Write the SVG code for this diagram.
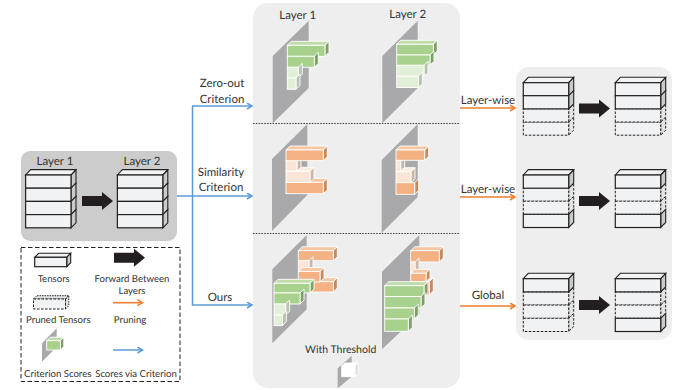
<svg xmlns="http://www.w3.org/2000/svg" width="686" height="390" viewBox="0 0 686 390">
<style>
text{font-family:Lato,"Liberation Sans",sans-serif;fill:#333;text-anchor:middle;font-size:11.5px;text-rendering:geometricPrecision}
.lg{font-size:9.6px}
.fr{fill:#f1f2f4;stroke:#222;stroke-width:1.2}
.sd{fill:#c9cbcb;stroke:#222;stroke-width:1.1}
.tp{fill:#f4f4f4;stroke:#222;stroke-width:1.1}
.frd{fill:#f1f2f4;stroke:#222;stroke-width:1;stroke-dasharray:2.500 1.500}
.sdd{fill:#e2e3e3;stroke:#222;stroke-width:1;stroke-dasharray:2.500 1.500}
.pl{fill:#a9a9ac}
.g1,.g2,.g3,.gl1,.gl2,.gl3,.o1,.o2,.o3,.ol1,.ol2,.ol3,.w1,.w2,.w3{stroke:#fff;stroke-width:.9}
.g1{fill:#a9d18e}.g2{fill:#bfdcab}.g3{fill:#7f9f69}
.gl1{fill:#e2efd9}.gl2{fill:#edf5e6}.gl3{fill:#b7c2ad}
.o1{fill:#f4b183}.o2{fill:#f7c6a3}.o3{fill:#c48a60}
.ol1{fill:#fbe5d6}.ol2{fill:#fdeee3}.ol3{fill:#c9b7a8}
.w1,.w2{fill:#fff}.w3{fill:#d8d8d8}
.bl{fill:none;stroke:#5b9bd5;stroke-width:1.500}
.or{fill:none;stroke:#ed7d31;stroke-width:1.600}
.dot{stroke:#444;stroke-width:1;stroke-dasharray:1.600 1.200;fill:none}
</style>
<defs>
<path id="arw" fill="#231f20" d="M0-5H20V-9L31 0 20 9V5H0z"/>
<path id="cap" class="tp" d="M0 0l5-5.400h45.400l-5 5.400z"/>
<g id="ls"><path class="sd" d="M45.400 0l5-5v13.200l-5 5z"/><rect class="fr" width="45.400" height="13.200"/></g>
<g id="ld"><path class="sdd" d="M45.400 0l5-5v13.200l-5 5z"/><rect class="frd" width="45.400" height="13.200"/></g>
<marker id="mb" markerWidth="8" markerHeight="8" refX="6" refY="3.500" orient="auto" markerUnits="userSpaceOnUse"><path d="M1 .5L6 3.500 1 6.500" fill="none" stroke="#5b9bd5" stroke-width="1.500"/></marker>
<marker id="mo" markerWidth="8" markerHeight="8" refX="6" refY="3.500" orient="auto" markerUnits="userSpaceOnUse"><path d="M1 .5L6 3.500 1 6.500" fill="none" stroke="#ed7d31" stroke-width="1.500"/></marker>
</defs>

<g id="panels">
<rect x="21" y="151" width="156" height="90" rx="9" fill="#cdcccc"/>
<rect x="253" y="3" width="207" height="385" rx="15" fill="#eeeeee"/>
<rect x="516" y="67" width="156" height="273" rx="13" fill="#eeeeee"/>
<path class="dot" d="M253 123.500H460M253 233.500H460"/>
</g>

<g id="connectors">
<path class="bl" d="M177 196H192.500"/>
<path class="bl" d="M192.500 106V305H252" marker-end="url(#mb)"/>
<path class="bl" d="M192 106H252" marker-end="url(#mb)"/>
<path class="bl" d="M192.500 196H252" marker-end="url(#mb)"/>
<path class="or" d="M460 108H515" marker-end="url(#mo)"/>
<path class="or" d="M460 197H515" marker-end="url(#mo)"/>
<path class="or" d="M460 306H515" marker-end="url(#mo)"/>
</g>

<g id="input-stacks">
<text x="55" y="165">Layer 1</text><text x="142" y="165">Layer 2</text>
<g id="input-layer-1" transform="translate(25.600 175)"><use href="#cap"/><use href="#ls"/><use href="#ls" y="13.200"/><use href="#ls" y="26.400"/><use href="#ls" y="39.600"/></g>
<g id="input-layer-2" transform="translate(117.400 175)"><use href="#cap"/><use href="#ls"/><use href="#ls" y="13.200"/><use href="#ls" y="26.400"/><use href="#ls" y="39.600"/></g>
<use href="#arw" x="82" y="201"/>
</g>

<g id="legend">
<rect x="21" y="247.500" width="159" height="134" fill="#fff" stroke="#222" stroke-width="1" stroke-dasharray="4.500 2.500"/>
<path class="tp" d="M34.700 257.300l4-4h32l-4 4z"/><path class="sd" d="M66.700 257.300l4-4v9.400l-4 4z"/><rect class="fr" x="34.700" y="257.300" width="32" height="9.400"/>
<use href="#arw" x="114" y="257.700"/>
<path class="sdd" d="M33.500 299l3.300-3.300h32l-3.300 3.300zM65.500 299l3.300-3.300v10l-3.300 3.300z" style="stroke-dasharray:1.500 1"/><rect class="frd" x="33.500" y="299" width="32" height="10"/>
<path class="or" d="M113 302.700H142.500" marker-end="url(#mo)"/>
<path class="pl" d="M42 343.300L56.700 328.300V347L42 361.700z"/>
<path class="g2" d="M46.700 340.700l3.500-3.500h13.600l-3.500 3.500z"/><path class="g3" d="M60.300 340.700l3.500-3.500v9.300l-3.500 3.500z"/><rect class="g1" x="46.700" y="340.700" width="13.600" height="9.300"/>
<path class="bl" d="M113 350H142.500" marker-end="url(#mb)"/>
<text class="lg" x="53.700" y="282">Tensors</text>
<text class="lg" x="132" y="282">Forward Between</text><text class="lg" x="132" y="294">Layers</text>
<text class="lg" x="58.300" y="322.700">Pruned Tensors</text><text class="lg" x="130" y="322.700">Pruning</text>
<text class="lg" x="57.700" y="376.700">Criterion Scores</text><text class="lg" x="136" y="376.700">Scores via Criterion</text>
</g>

<g id="labels">
<text x="222" y="87">Zero-out</text><text x="222" y="103">Criterion</text>
<text x="221" y="176">Similarity</text><text x="221" y="191">Criterion</text>
<text x="220" y="301">Ours</text>
<text x="488" y="104">Layer-wise</text><text x="488" y="192.500">Layer-wise</text><text x="488" y="299">Global</text>
<text x="297.700" y="19">Layer 1</text><text x="407.700" y="17.500">Layer 2</text>
<text x="340.700" y="352.700" style="font-size:10.500px">With Threshold</text>
</g>

<g id="zero-out-layer-1">
<path class="pl" d="M272.700 56L308.700 20.700V88L272.700 123.300z"/>
<path class="g2" d="M287.300 45.300l4-4h37.700l-4 4z"/><path class="g3" d="M325 45.300l4-4v11l-4 4z"/><rect class="g1" x="287.300" y="45.300" width="37.700" height="11"/>
<path class="g3" d="M314.300 56.300l4-4v11l-4 4z"/><rect class="g1" x="287.300" y="56.300" width="27" height="11"/>
<path class="gl3" d="M298.300 67.300l4-4v10.700l-4 4z"/><rect class="gl1" x="287.300" y="67.300" width="11" height="10.700"/>
<path class="gl3" d="M296 78l4-4v11.300l-4 4z"/><rect class="gl1" x="287.300" y="78" width="8.700" height="11.300"/>
</g>
<g id="zero-out-layer-2">
<path class="pl" d="M382.300 56L417.700 20.700V88L382.300 123.300z"/>
<path class="g2" d="M396.700 44.300l4-4h36.600l-4 4z"/><path class="g3" d="M433.300 44.300l4-4v10.700l-4 4z"/><rect class="g1" x="396.700" y="44.300" width="36.600" height="10.700"/>
<path class="g3" d="M430 55l4-4v10.300l-4 4z"/><rect class="g1" x="396.700" y="55" width="33.300" height="10.300"/>
<path class="gl3" d="M424 65.300l4-4v11l-4 4z"/><rect class="gl1" x="396.700" y="65.300" width="27.300" height="11"/>
<path class="gl3" d="M418.300 76.300l4-4v11.200l-4 4z"/><rect class="gl1" x="396.700" y="76.300" width="21.600" height="11.200"/>
</g>

<g id="similarity-layer-1">
<path class="pl" d="M272 159L307.300 124V195L272 231z"/>
<path class="ol3" d="M297 160.700l4-4v11l-4 4z"/><rect class="ol1" x="286" y="160.700" width="11" height="10.600"/>
<path class="o2" d="M286 150l4-4h37.300l-4 4z"/><path class="o3" d="M323.300 150l4-4v10.700l-4 4z"/><rect class="o1" x="286" y="150" width="37.300" height="10.700"/>
<path class="o2" d="M286 182.300l4-4h37.300l-4 4z"/><path class="o3" d="M323.300 182.300l4-4v11.400l-4 4z"/><rect class="o1" x="286" y="182.300" width="37.300" height="11.400"/>
<path class="ol2" d="M297 171.300l4-4h13l-4 4z"/><path class="ol3" d="M310 171.300l4-4v11l-4 4z"/><rect class="ol1" x="286" y="171.300" width="24" height="11"/>
</g>
<g id="similarity-layer-2">
<path class="pl" d="M381.700 160L417.700 124V197L381.700 233z"/>
<path class="ol3" d="M400.700 160.300l4-4v11l-4 4z"/><rect class="ol1" x="396" y="160.300" width="4.700" height="11"/>
<path class="o2" d="M396 150l4-4h28.700l-4 4z"/><path class="o3" d="M424.700 150l4-4v10.300l-4 4z"/><rect class="o1" x="396" y="150" width="28.700" height="10.300"/>
<path class="o3" d="M414.700 182.700l4-4v11.600l-4 4z"/><path class="ol3" d="M411 171.700l4-4v11l-4 4z"/><path class="ol2" d="M400 171.700l4-4h11l-4 4z"/><rect class="ol1" x="396" y="171.700" width="15" height="11"/>
<rect class="o1" x="396" y="182.700" width="18.700" height="11.600"/>
</g>

<g id="ours-layer-1">
<path class="pl" d="M272.300 269.300L306.700 235V309.300L272.300 343.300z"/>
<path class="o2" d="M298.300 250.700l4-4h35l-4 4z"/><path class="o3" d="M333.300 250.700l4-4v10l-4 4z"/><rect class="o1" x="298.300" y="250.700" width="35" height="10"/>
<path class="ol3" d="M309 260.700l4-4v10.600l-4 4z"/><rect class="ol1" x="298.300" y="260.700" width="10.700" height="10.600"/>
<path class="o2" d="M298.300 281.700l4-4h35l-4 4z"/><path class="o3" d="M333.300 281.700l4-4v10.300l-4 4z"/><rect class="o1" x="298.300" y="281.700" width="35" height="10.300"/>
<path class="o2" d="M298.300 271.500l4-4h21.700l-4 4z"/><path class="o3" d="M320 271.500l4-4v10.500l-4 4z"/><rect class="o1" x="298.300" y="271.500" width="21.700" height="10.500"/>
<path class="g2" d="M274 283.300l4-4h36l-4 4z"/><path class="g3" d="M310 283.300l4-4v9.700l-4 4z"/><rect class="g1" x="274" y="283.300" width="36" height="9.700"/>
<path class="g3" d="M300 293l4-4v11l-4 4z"/><rect class="g1" x="274" y="293" width="26" height="11"/>
<path class="gl3" d="M285.700 304l4-4v11l-4 4z"/><rect class="gl1" x="274" y="304" width="11.700" height="11"/>
<path class="gl3" d="M282.300 315l4-4v10.700l-4 4z"/><rect class="gl1" x="274" y="315" width="8.300" height="10.700"/>
</g>
<g id="ours-layer-2">
<path class="pl" d="M382 271.700L419.300 235V314L382 349.300z"/>
<path class="o2" d="M410.700 250.700l4-4h28.600l-4 4z"/><path class="o3" d="M439.300 250.700l4-4v11.300l-4 4z"/><rect class="o1" x="410.700" y="250.700" width="28.600" height="11.300"/>
<path class="ol3" d="M415 262l4-4v11l-4 4z"/><rect class="ol1" x="410.700" y="262" width="4.300" height="11"/>
<path class="o3" d="M429.300 281.700l4-4v13.300l-4 4z"/><rect class="o1" x="410.700" y="281.700" width="18.600" height="13.300"/>
<path class="o2" d="M410.700 273.300l4-4h15.300l-4 4z"/><path class="o3" d="M426 273.300l4-4v8.400l-4 4z"/><rect class="o1" x="410.700" y="273.300" width="15.300" height="8.400"/>
<path class="g2" d="M384.700 285.700l4-4h39.300l-4 4z"/><path class="g3" d="M424 285.700l4-4v10.800l-4 4z"/><rect class="g1" x="384.700" y="285.700" width="39.300" height="10.800"/>
<path class="g3" d="M421 296.500l4-4v11.500l-4 4z"/><rect class="g1" x="384.700" y="296.500" width="36.300" height="11.500"/>
<path class="g3" d="M414.300 308l4-4v11l-4 4z"/><rect class="g1" x="384.700" y="308" width="29.600" height="11"/>
<path class="g3" d="M408.300 319l4-4v12.300l-4 4z"/><rect class="g1" x="384.700" y="319" width="23.600" height="12.300"/>
</g>
<g id="threshold">
<path class="pl" d="M337.700 368.300L351.700 356V376.700L337.700 388.300z"/>
<path class="w1" d="M341.700 366l3-3h13.300l-3 3z"/><path class="w3" d="M355 366l3-3v10.700l-3 3z"/><rect class="w1" x="341.700" y="366" width="13.300" height="10.700"/>
</g>

<g id="out-layerwise-zero">
<g transform="translate(523.300 82.700)"><use href="#cap"/><use href="#ld" y="39.300"/><use href="#ld" y="26.100"/><use href="#ls"/><use href="#ls" y="13"/></g>
<g transform="translate(615.300 82.700)"><use href="#cap"/><use href="#ld" y="39.300"/><use href="#ld" y="26.100"/><use href="#ls"/><use href="#ls" y="13"/></g>
<use href="#arw" x="579" y="108.500"/>
</g>
<g id="out-layerwise-similarity">
<g transform="translate(523.300 175)"><use href="#cap"/><use href="#ld" y="13.100"/><use href="#ld" y="26.200"/><use href="#ls" y="39.300"/><use href="#ls"/></g>
<g transform="translate(615.300 175)"><use href="#cap"/><use href="#ld" y="13.100"/><use href="#ld" y="26.200"/><use href="#ls" y="39.300"/><use href="#ls"/></g>
<use href="#arw" x="579" y="201"/>
</g>
<g id="out-global">
<g transform="translate(523.300 278.700)"><use href="#cap"/><use href="#ld" y="13.200"/><use href="#ld" y="26.400"/><use href="#ld" y="39.600"/><use href="#ls"/></g>
<g transform="translate(615.300 278.700)"><use href="#cap"/><use href="#ld" y="13.200"/><use href="#ld" y="26.400"/><use href="#ls" y="39.600"/><use href="#ls"/></g>
<use href="#arw" x="579" y="305"/>
</g>
</svg>
